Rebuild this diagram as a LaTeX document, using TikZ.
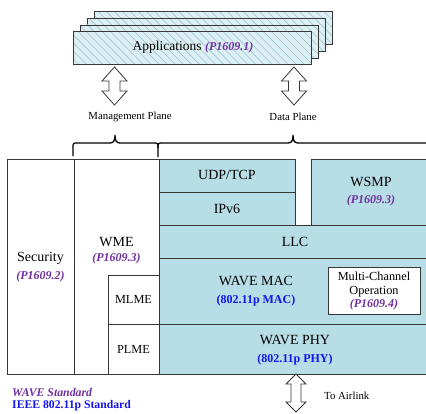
\documentclass[tikz,border=0pt]{standalone}
\usepackage{fontspec}
\setmainfont{Liberation Serif}
\usetikzlibrary{patterns.meta}
\definecolor{layerblue}{RGB}{183,221,231}
\definecolor{appfill}{RGB}{222,239,244}
\definecolor{hatchc}{RGB}{155,198,210}
\definecolor{wavepurple}{RGB}{112,48,160}
\definecolor{ieeeblue}{RGB}{20,20,235}
\definecolor{edgec}{RGB}{55,55,55}
\newcommand{\wref}[1]{{\fontsize{12}{13}\selectfont\bfseries\itshape\color{wavepurple}#1}}
\newcommand{\iref}[1]{{\fontsize{12}{13}\selectfont\bfseries\color{ieeeblue}#1}}
\newcommand{\updown}[6]{%
  \draw[arrowline] (#1,#2) -- (#1+#4,#2+#6) -- (#1+#5,#2+#6) -- (#1+#5,#3-#6)
   -- (#1+#4,#3-#6) -- (#1,#3) -- (#1-#4,#3-#6) -- (#1-#5,#3-#6)
   -- (#1-#5,#2+#6) -- (#1-#4,#2+#6) -- cycle;}
\tikzset{
  box/.style={draw=edgec, line width=0.8pt, inner sep=0pt, anchor=north west, fill=white},
  layer/.style={box, fill=layerblue},
  appbox/.style={box, minimum width=238pt, minimum height=33pt,
     preaction={fill=appfill},
     pattern={Lines[angle=-45,distance=5.7pt,line width=0.6pt]}, pattern color=hatchc},
  maintext/.style={font=\fontsize{14}{18}\selectfont, align=center, inner sep=0pt},
  smalltext/.style={font=\fontsize{10.8}{12}\selectfont, inner sep=0pt},
  arrowline/.style={draw=edgec, line width=0.8pt, fill=white},
  bracestyle/.style={draw=black, line width=1.3pt},
}
\begin{document}
\begin{tikzpicture}[x=1pt,y=-1pt]
\clip (0,0) rectangle (426,413);
\fill[white] (0,0) rectangle (426,413);
% application stack
\node[appbox] (app4) at (94,11.5) {};
\node[appbox] (app3) at (87,18) {};
\node[appbox] (app2) at (80,24.5) {};
\node[appbox] (app1) at (73,31) {};
\node[maintext, font=\fontsize{13.5}{16}\selectfont] (appT) at (193,47.5) {Applications \wref{(P1609.1)}};
% plane arrows
\updown{114.5}{67}{105}{12.5}{5.5}{14}
\updown{294}{67}{105}{12.5}{5.5}{14}
\node[smalltext] (mgmt) at (130,117) {Management Plane};
\node[smalltext] (data) at (293,117) {Data Plane};
% braces
\coordinate (mgmtTip) at (115,135);
\coordinate (dataTip) at (293,135);
\draw[bracestyle] (73,156) -- (73,148) .. controls (73,143) .. (78,143) -- (110,143)
  .. controls (114,143) and (115,140) .. (mgmtTip)
  .. controls (115,140) and (116,143) .. (120,143) -- (153,143)
  .. controls (158,143) .. (158,148) -- (158,157);
\draw[bracestyle] (158,148) .. controls (158,143) .. (163,143) -- (288,143)
  .. controls (292,143) and (293,140) .. (dataTip)
  .. controls (293,140) and (294,143) .. (298,143) -- (440,143);
% layers
\node[box, minimum width=67pt, minimum height=215pt] (sec) at (7,159) {};
\node[box, minimum width=85pt, minimum height=215pt] (wme) at (74,159) {};
\node[box, minimum width=51pt, minimum height=49pt] (mlme) at (108,275) {};
\node[box, minimum width=51pt, minimum height=50pt] (plme) at (108,324) {};
\node[layer, minimum width=136pt, minimum height=33pt] (udp) at (159,159) {};
\node[layer, minimum width=136pt, minimum height=33pt] (ipv6) at (159,192) {};
\node[layer, minimum width=121pt, minimum height=66pt] (wsmp) at (311,159) {};
\node[layer, minimum width=273pt, minimum height=33pt] (llc) at (159,225) {};
\node[layer, minimum width=273pt, minimum height=66pt] (mac) at (159,258) {};
\node[layer, minimum width=273pt, minimum height=50pt] (phy) at (159,324) {};
\node[box, minimum width=92pt, minimum height=47pt] (mco) at (328,267) {};
% texts
\node[maintext] (secT) at (40.5,267) {Security\\\wref{(P1609.2)}};
\node[maintext] (wmeT) at (116.5,251) {WME\\[-3pt]\wref{(P1609.3)}};
\node[maintext, font=\fontsize{12.3}{14}\selectfont] (mlmeT) at (133.5,299.5) {MLME};
\node[maintext, font=\fontsize{12.3}{14}\selectfont] (plmeT) at (133.5,349) {PLME};
\node[maintext] (udpT) at (227,175) {UDP/TCP};
\node[maintext] (ipv6T) at (227,208.5) {IPv6};
\node[maintext] (wsmpT) at (371,192) {WSMP\\[-1pt]\wref{(P1609.3)}};
\node[maintext] (llcT) at (295,241.5) {LLC};
\node[maintext] (macT) at (256,291.5) {WAVE MAC\\\iref{(802.11p MAC)}};
\node[maintext] (phyT) at (295,350) {WAVE PHY\\\iref{(802.11p PHY)}};
\node[maintext, font=\fontsize{12.3}{14.2}\selectfont] (mcoT) at (374,291) {Multi-Channel\\Operation\\[-1pt]\wref{(P1609.4)}};
% airlink
\updown{296}{374}{412}{10}{5}{10}
\node[smalltext, anchor=west] (air) at (324,396) {To Airlink};
% legend
\node[anchor=west, inner sep=0pt, font=\fontsize{11.8}{13}\selectfont\bfseries\itshape, text=wavepurple] (legW) at (12,392) {WAVE Standard};
\node[anchor=west, inner sep=0pt, font=\fontsize{11.7}{13}\selectfont\bfseries, text=ieeeblue] (legI) at (12,406) {IEEE 802.11p Standard};
\end{tikzpicture}
\end{document}
